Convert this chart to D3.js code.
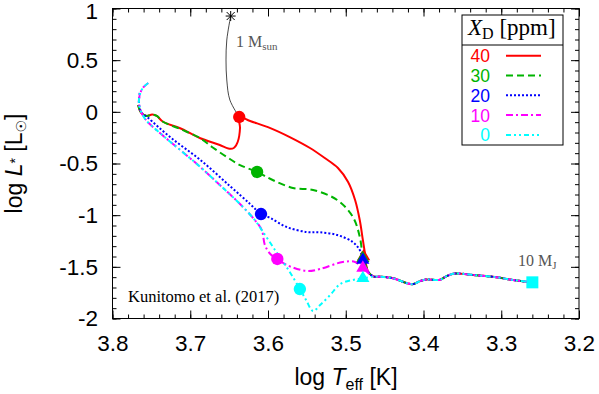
<!DOCTYPE html>
<html><head><meta charset="utf-8">
<script src="https://cdn.jsdelivr.net/npm/d3@7"></script>
<style>html,body{margin:0;padding:0;background:#fff;} svg{display:block;}</style>
</head><body>
<svg id="chart" width="599" height="394"></svg>
<script>
// ---------------- DATA ----------------
const seriesNames = ["40", "30", "20", "10", "0"];
const seriesColors = ["#ff0000", "#00b400", "#0000ff", "#ff00ff", "#00ffff"];
const xTicks = [3.8, 3.7, 3.6, 3.5, 3.4, 3.3, 3.2];
const yTicks = [1, 0.5, 0, -0.5, -1, -1.5, -2];

// shared low-luminosity tail
const tailTeff = [3.464, 3.456, 3.439, 3.421, 3.413, 3.405, 3.396, 3.379, 3.370, 3.360, 3.336, 3.306, 3.285, 3.260];
const tailLum  = [-1.594, -1.596, -1.611, -1.659, -1.667, -1.640, -1.623, -1.625, -1.589, -1.565, -1.579, -1.601, -1.627, -1.650];

const teff40 = [3.767, 3.763, 3.756, 3.749, 3.743, 3.735, 3.713, 3.687, 3.662, 3.651, 3.644, 3.639, 3.636, 3.637, 3.623, 3.597, 3.572, 3.546, 3.527, 3.510, 3.497, 3.488, 3.482, 3.478, 3.475, 3.474, 3.471];
const lum40  = [0.066, -0.011, -0.040, -0.026, -0.040, -0.096, -0.159, -0.256, -0.321, -0.355, -0.350, -0.292, -0.157, -0.050, -0.089, -0.157, -0.244, -0.350, -0.447, -0.544, -0.679, -0.853, -1.047, -1.240, -1.386, -1.473, -1.550];

const teff30 = [3.767, 3.763, 3.756, 3.749, 3.743, 3.735, 3.713, 3.687, 3.672, 3.653, 3.636, 3.614, 3.594, 3.568, 3.542, 3.511, 3.491, 3.482, 3.478, 3.474, 3.469];
const lum30  = [0.066, -0.011, -0.040, -0.026, -0.040, -0.096, -0.166, -0.256, -0.340, -0.437, -0.515, -0.582, -0.660, -0.737, -0.756, -0.853, -1.015, -1.208, -1.398, -1.492, -1.569];

const teff20 = [3.765, 3.766, 3.763, 3.754, 3.726, 3.687, 3.649, 3.623, 3.609, 3.597, 3.576, 3.550, 3.533, 3.511, 3.491, 3.482, 3.478, 3.474, 3.469];
const lum20  = [0.182, 0.085, -0.002, -0.060, -0.244, -0.466, -0.718, -0.892, -0.989, -1.027, -1.115, -1.163, -1.166, -1.192, -1.260, -1.337, -1.434, -1.511, -1.569];

const teff10 = [3.754, 3.761, 3.765, 3.766, 3.763, 3.757, 3.739, 3.713, 3.687, 3.662, 3.636, 3.617, 3.608, 3.604, 3.597, 3.588, 3.576, 3.550, 3.533, 3.504, 3.488, 3.478, 3.471];
const lum10  = [0.279, 0.231, 0.163, 0.085, -0.002, -0.079, -0.205, -0.369, -0.534, -0.708, -0.892, -1.047, -1.144, -1.289, -1.376, -1.424, -1.482, -1.540, -1.521, -1.453, -1.453, -1.511, -1.560];

const teff0 = [3.754, 3.761, 3.765, 3.766, 3.763, 3.757, 3.739, 3.713, 3.687, 3.662, 3.636, 3.617, 3.608, 3.591, 3.572, 3.559, 3.551, 3.542, 3.533, 3.520, 3.507, 3.491, 3.478];
const lum0  = [0.279, 0.231, 0.163, 0.085, -0.002, -0.079, -0.205, -0.369, -0.534, -0.708, -0.892, -1.047, -1.144, -1.337, -1.550, -1.715, -1.821, -1.928, -1.869, -1.773, -1.666, -1.627, -1.611];

// 1 Msun track
const sunTeff = [3.648, 3.653, 3.654, 3.653, 3.649, 3.637];
const sunLum  = [0.927, 0.695, 0.502, 0.308, 0.114, -0.050];

// markers (one per series)
const circleTeff = [3.637, 3.614, 3.609, 3.588, 3.559];
const circleLum  = [-0.050, -0.582, -0.989, -1.424, -1.715];
const triTeff = [3.477, 3.478, 3.478, 3.478, 3.478];
const triLum  = [-1.400, -1.417, -1.434, -1.511, -1.611];
const startTeff = [3.648], startLum = [0.927];
const endTeff = [3.260], endLum = [-1.650];

// ---------------- DRAW ----------------
const svg = d3.select("#chart");
const L = 112.5, R = 579, T = 8.5, B = 318.5;
const x = d3.scaleLinear().domain([3.8, 3.2]).range([L, R]);
const y = d3.scaleLinear().domain([-2, 1]).range([B, T]);
const sans = "'Liberation Sans', Arial, Helvetica, sans-serif";
const serif = "'Liberation Serif', 'Times New Roman', serif";

const tracks = [
  [teff40, lum40], [teff30, lum30], [teff20, lum20], [teff10, lum10], [teff0, lum0]
].map(([t, l]) => t.map((v, i) => [v, l[i]]).concat(tailTeff.map((v, i) => [v, tailLum[i]])));
const dashes = [null, "7,4", "2,2", "7,3,2,3", "5,3,2,3,2,3"];

// axes
const minorX = d3.range(3.2, 3.8001, 0.02);
const minorY = d3.range(-2, 1.0001, 0.1);
function styleAxis(g){ g.select(".domain").remove(); g.selectAll("line").attr("stroke","#000").attr("stroke-width",1); }
svg.append("g").attr("transform",`translate(0,${B})`)
  .call(d3.axisBottom(x).tickValues(minorX).tickSize(-4).tickFormat("")).call(styleAxis);
svg.append("g").attr("transform",`translate(0,${T})`)
  .call(d3.axisTop(x).tickValues(minorX).tickSize(-4).tickFormat("")).call(styleAxis);
svg.append("g").attr("transform",`translate(${L},0)`)
  .call(d3.axisLeft(y).tickValues(minorY).tickSize(-4).tickFormat("")).call(styleAxis);
svg.append("g").attr("transform",`translate(${R},0)`)
  .call(d3.axisRight(y).tickValues(minorY).tickSize(-4).tickFormat("")).call(styleAxis);

const gx = svg.append("g").attr("transform",`translate(0,${B})`)
  .call(d3.axisBottom(x).tickValues(xTicks).tickSize(-8).tickPadding(16.5).tickFormat(d => String(d))).call(styleAxis);
svg.append("g").attr("transform",`translate(0,${T})`)
  .call(d3.axisTop(x).tickValues(xTicks).tickSize(-8).tickFormat("")).call(styleAxis);
const gy = svg.append("g").attr("transform",`translate(${L},0)`)
  .call(d3.axisLeft(y).tickValues(yTicks).tickSize(-8).tickPadding(14.5).tickFormat(d => String(d))).call(styleAxis);
svg.append("g").attr("transform",`translate(${R},0)`)
  .call(d3.axisRight(y).tickValues(yTicks).tickSize(-8).tickFormat("")).call(styleAxis);
[gx, gy].forEach(g => g.selectAll("text").attr("font-family", sans).attr("font-size", 22.5).attr("fill","#000"));
gy.selectAll("text").filter(d => d === 1).attr("dy", "0.45em");

svg.append("rect").attr("x",L).attr("y",T).attr("width",R-L).attr("height",B-T)
  .attr("fill","none").attr("stroke","#000").attr("stroke-width",1);

// tracks
const line = d3.line().x(d => x(d[0])).y(d => y(d[1])).curve(d3.curveCatmullRom.alpha(0.5));
svg.append("path").datum(sunTeff.map((v,i)=>[v, sunLum[i]]))
  .attr("d", line).attr("fill","none").attr("stroke","#333").attr("stroke-width",0.9);

tracks.forEach((tr, i) => {
  svg.append("path").datum(tr).attr("d", line).attr("fill","none")
    .attr("stroke", seriesColors[i]).attr("stroke-width", 2)
    .attr("stroke-dasharray", dashes[i]);
});

// markers
const circ = d3.symbol().type(d3.symbolCircle).size(120);
circleTeff.forEach((t, i) => {
  svg.append("path").attr("d", circ).attr("transform",`translate(${x(t)},${y(circleLum[i])})`).attr("fill", seriesColors[i]);
});
const tri = d3.symbol().type(d3.symbolTriangle).size(75);
triTeff.forEach((t, i) => {
  svg.append("path").attr("d", tri).attr("transform",`translate(${x(t)},${y(triLum[i])})`).attr("fill", seriesColors[i]);
});
svg.append("path").attr("d", d3.symbol().type(d3.symbolSquare).size(144))
  .attr("transform",`translate(${x(endTeff[0])},${y(endLum[0])})`).attr("fill","#00ffff");
// asterisk
const ast = svg.append("g").attr("transform",`translate(${x(startTeff[0])},${y(startLum[0])})`)
  .attr("stroke","#000").attr("stroke-width",1);
[[-5,0,5,0],[0,-5,0,5],[-4,-4,4,4],[-4,4,4,-4]].forEach(s => ast.append("line").attr("x1",s[0]).attr("y1",s[1]).attr("x2",s[2]).attr("y2",s[3]));

// annotations
const t1 = svg.append("text").attr("x",236).attr("y",47).attr("font-family",serif).attr("font-size",16).attr("fill","#555");
t1.append("tspan").text("1 M");
t1.append("tspan").attr("font-size",11).attr("dy",3).text("sun");
const t2 = svg.append("text").attr("x",518).attr("y",266).attr("font-family",serif).attr("font-size",16).attr("fill","#555");
t2.append("tspan").text("10 M");
t2.append("tspan").attr("font-size",11).attr("dy",3).text("J");
svg.append("text").attr("x",128).attr("y",302).attr("font-family",serif).attr("font-size",16.5).attr("fill","#000")
  .text("Kunitomo et al. (2017)");

// axis titles
const xt = svg.append("text").attr("x",346).attr("y",385).attr("text-anchor","middle")
  .attr("font-family",sans).attr("font-size",23).attr("fill","#000");
xt.append("tspan").text("log ");
xt.append("tspan").attr("font-style","italic").text("T");
xt.append("tspan").attr("font-size",16).attr("dy",5).text("eff");
xt.append("tspan").attr("dy",-5).text(" [K]");

const yt = svg.append("text").attr("transform","translate(22,163.5) rotate(-90)").attr("text-anchor","middle")
  .attr("font-family",sans).attr("font-size",23).attr("fill","#000");
yt.append("tspan").text("log ");
yt.append("tspan").attr("font-style","italic").text("L");
yt.append("tspan").attr("font-size",14).attr("dy",-2).text("*");
yt.append("tspan").attr("dy",2).text(" [L");
yt.append("tspan").attr("font-size",14).attr("dy",4).attr("font-family","'DejaVu Sans'").text("\u2609");
yt.append("tspan").attr("dy",-4).text("]");

// legend
const lg = svg.append("g");
lg.append("rect").attr("x",462).attr("y",15).attr("width",101).attr("height",130)
  .attr("fill","#fff").attr("stroke","#000").attr("stroke-width",1);
lg.append("line").attr("x1",462).attr("x2",563).attr("y1",45).attr("y2",45).attr("stroke","#000");
const hd = lg.append("text").attr("x",468).attr("y",35).attr("font-family",serif).attr("font-size",23).attr("fill","#000");
hd.append("tspan").attr("font-style","italic").text("X");
hd.append("tspan").attr("font-size",16).attr("dy",4).text("D");
hd.append("tspan").attr("dy",-4).text(" [ppm]");
seriesNames.forEach((n, i) => {
  const yy = 55.7 + i * 19.8;
  lg.append("text").attr("x",490).attr("y",yy+6.5).attr("text-anchor","end")
    .attr("font-family",sans).attr("font-size",17.5).attr("fill",seriesColors[i]).text(n);
  lg.append("line").attr("x1",506).attr("x2",541).attr("y1",yy).attr("y2",yy)
    .attr("stroke",seriesColors[i]).attr("stroke-width",2).attr("stroke-dasharray",dashes[i]);
});
</script>
</body></html>
